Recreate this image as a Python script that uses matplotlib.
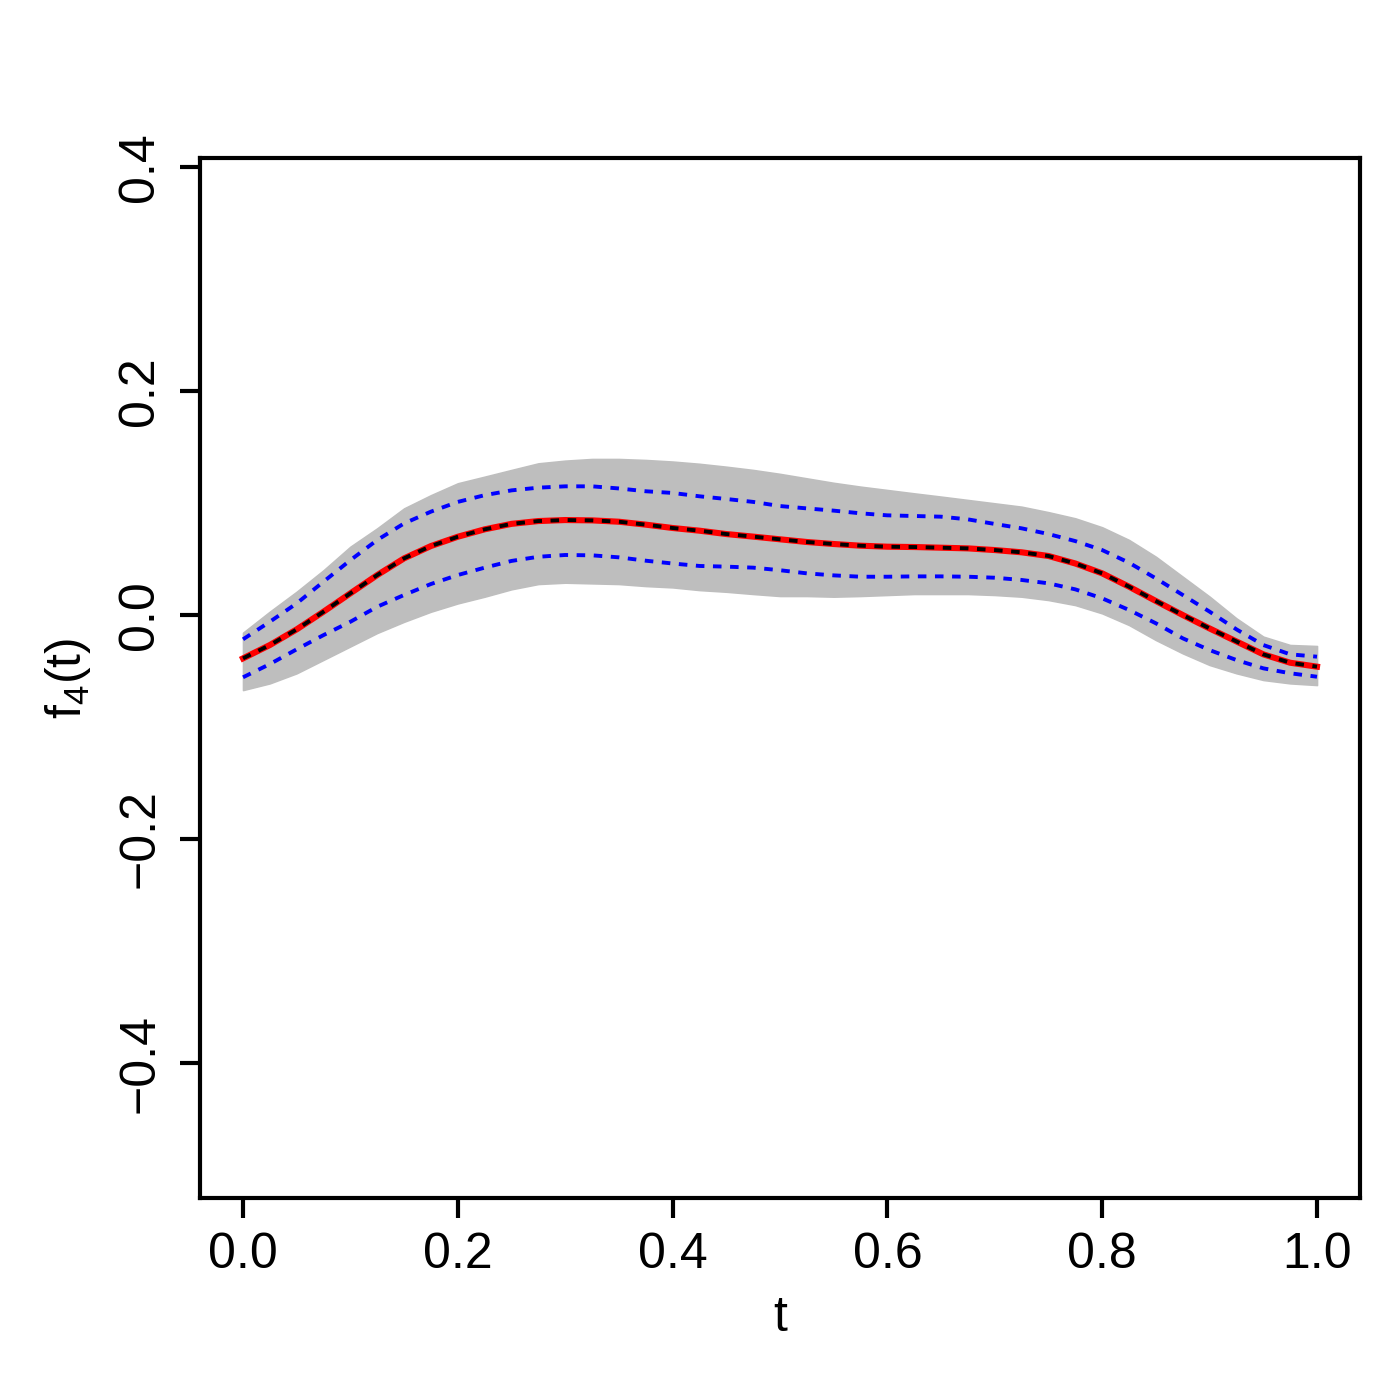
import numpy as np
import matplotlib
matplotlib.use("Agg")
import matplotlib.pyplot as plt

plt.rcParams['font.family'] = ['Liberation Sans', 'DejaVu Sans']
plt.rcParams['mathtext.fontset'] = 'custom'
plt.rcParams['mathtext.rm'] = 'Liberation Sans'
plt.rcParams['mathtext.it'] = 'Liberation Sans'

# t grid the curves were read at (step 0.025)
t = np.linspace(0, 1, 41)

# mean curve (red solid with black dashed on top)
mean_f = [-0.0387, -0.0268, -0.0128, 0.0030, 0.0194, 0.0357, 0.0506, 0.0616, 0.0699, 0.0765,
          0.0814, 0.0839, 0.0848, 0.0845, 0.0833, 0.0807, 0.0777, 0.0753, 0.0723, 0.0700,
          0.0676, 0.0652, 0.0634, 0.0619, 0.0610, 0.0607, 0.0601, 0.0595, 0.0580, 0.0560,
          0.0527, 0.0460, 0.0372, 0.0253, 0.0125, 0.0000, -0.0120, -0.0236, -0.0351, -0.0426,
          -0.0461]
# pointwise band (blue dashed)
band_hi = [-0.0217, -0.0060, 0.0104, 0.0298, 0.0490, 0.0670, 0.0818, 0.0923, 0.1010, 0.1070,
           0.1113, 0.1137, 0.1149, 0.1149, 0.1130, 0.1105, 0.1090, 0.1060, 0.1036, 0.1010,
           0.0973, 0.0952, 0.0932, 0.0908, 0.0890, 0.0884, 0.0878, 0.0854, 0.0813, 0.0774,
           0.0723, 0.0660, 0.0580, 0.0467, 0.0327, 0.0179, 0.0030, -0.0128, -0.0268, -0.0351,
           -0.0372]
band_lo = [-0.0556, -0.0438, -0.0306, -0.0179, -0.0060, 0.0074, 0.0179, 0.0277, 0.0357, 0.0423,
           0.0483, 0.0520, 0.0536, 0.0533, 0.0515, 0.0485, 0.0460, 0.0438, 0.0432, 0.0423,
           0.0400, 0.0372, 0.0354, 0.0342, 0.0342, 0.0345, 0.0345, 0.0342, 0.0333, 0.0313,
           0.0283, 0.0229, 0.0149, 0.0045, -0.0074, -0.0208, -0.0313, -0.0402, -0.0476, -0.0520,
           -0.0551]
# envelope of the gray sample curves
gray_hi = [-0.0158, 0.0030, 0.0208, 0.0400, 0.0610, 0.0774, 0.0952, 0.1070, 0.1176, 0.1235,
           0.1295, 0.1354, 0.1378, 0.1393, 0.1393, 0.1384, 0.1370, 0.1350, 0.1324, 0.1295,
           0.1260, 0.1220, 0.1180, 0.1146, 0.1116, 0.1086, 0.1057, 0.1027, 0.0997, 0.0967,
           0.0918, 0.0863, 0.0783, 0.0670, 0.0520, 0.0342, 0.0164, -0.0030, -0.0193, -0.0268,
           -0.0277]
gray_lo = [-0.0670, -0.0610, -0.0520, -0.0400, -0.0280, -0.0160, -0.0060, 0.0030, 0.0104, 0.0164,
           0.0230, 0.0277, 0.0289, 0.0283, 0.0277, 0.0259, 0.0247, 0.0223, 0.0208, 0.0188,
           0.0170, 0.0170, 0.0164, 0.0170, 0.0179, 0.0188, 0.0188, 0.0188, 0.0179, 0.0164,
           0.0134, 0.0089, 0.0015, -0.0089, -0.0223, -0.0342, -0.0446, -0.0520, -0.0580, -0.0610,
           -0.0625]

xticks = [0.0, 0.2, 0.4, 0.6, 0.8, 1.0]
xticklabels = ['0.0', '0.2', '0.4', '0.6', '0.8', '1.0']
yticks = [-0.4, -0.2, 0.0, 0.2, 0.4]
yticklabels = ['\u22120.4', '\u22120.2', '0.0', '0.2', '0.4']

fig = plt.figure(figsize=(14, 14), dpi=100)
ax = fig.add_axes([0.1429, 0.1443, 0.8285, 0.7428])

ax.fill_between(t, gray_lo, gray_hi, color='#BEBEBE', lw=1.2, edgecolor='#BEBEBE')

ax.plot(t, band_hi, color='#0000FF', lw=2.8, dashes=(2.2, 2.2))
ax.plot(t, band_lo, color='#0000FF', lw=2.8, dashes=(2.2, 2.2))
ax.plot(t, mean_f, color='#FF0000', lw=4.4)
ax.plot(t, mean_f, color='black', lw=2.8, dashes=(2.2, 2.2))

ax.set_xlim(-0.04, 1.04)
ax.set_ylim(-0.5205, 0.408)

ax.set_xticks(xticks)
ax.set_xticklabels(xticklabels)
ax.set_yticks(yticks)
ax.set_yticklabels(yticklabels)

for s in ax.spines.values():
    s.set_linewidth(3.0)
ax.tick_params(axis='both', direction='out', length=14.4, width=3.0, labelsize=36)
ax.tick_params(axis='x', pad=10)
ax.tick_params(axis='y', pad=12, labelrotation=90)
for lab in ax.get_yticklabels():
    lab.set_va('center')

ax.set_xlabel('t', fontsize=36)
ax.xaxis.set_label_coords(0.5, -0.115)
ax.xaxis.label.set_va('center')
ax.set_ylabel(r'f$_4$(t)', fontsize=36)
ax.yaxis.set_label_coords(-0.114, 0.5)
ax.yaxis.label.set_va('center')

fig.savefig('out.png', dpi=100)
